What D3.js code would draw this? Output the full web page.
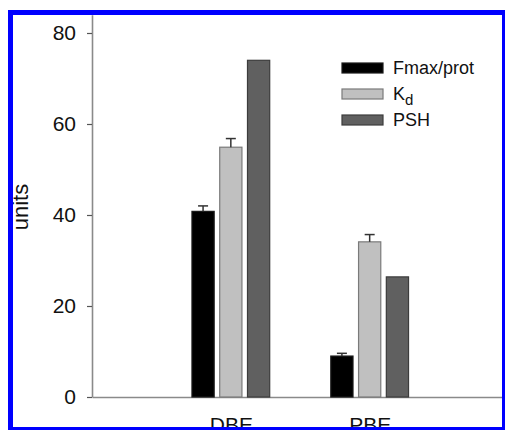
<!DOCTYPE html>
<html>
<head>
<meta charset="utf-8">
<script src="https://cdn.jsdelivr.net/npm/d3@7"></script>
<style>
  html, body { margin: 0; padding: 0; background: #fff; }
  svg { display: block; }
  text { font-family: "Liberation Sans", Arial, Helvetica, sans-serif; fill: #111; }
</style>
</head>
<body>
<svg id="chart" width="505" height="430"></svg>
<script>
// Group labels and the three measured series (mean and upper error)
const categories = ["DBE", "PBE"];
const fmaxProt = [40.8, 9.0];
const fmaxProtErr = [1.2, 0.6];
const kd = [54.9, 34.1];
const kdErr = [1.9, 1.6];
const psh = [74.0, 26.4];
const yTicks = [0, 20, 40, 60, 80];

const series = [
  { key: "Fmax/prot", values: fmaxProt, err: fmaxProtErr, fill: "#000000", stroke: "#1a1a1a" },
  { key: "Kd",        values: kd,       err: kdErr,       fill: "#c0c0c0", stroke: "#7a7a7a" },
  { key: "PSH",       values: psh,      err: null,        fill: "#606060", stroke: "#3c3c3c" }
];

const svg = d3.select("#chart");

// Category positions sit at 1 and 2 on a 0..3 axis
const x = d3.scaleLinear().domain([0, 3]).range([92, 508.5]);
const y = d3.scaleLinear().domain([0, 84]).range([397, 14.8]);
const pitch = 0.2, barW = 0.16;

// Y axis
const yAxis = d3.axisLeft(y).tickValues(yTicks).tickSize(5).tickPadding(11).tickSizeOuter(0);
const gy = svg.append("g").attr("transform", `translate(${x(0)},0)`).call(yAxis);
gy.select(".domain").attr("stroke", "#8a8a8a").attr("stroke-width", 1.6);
gy.selectAll(".tick line").attr("stroke", "#555").attr("stroke-width", 1.2);
gy.selectAll(".tick text").attr("font-size", 21).attr("fill", "#111")
  .style("font-family", "'Liberation Sans', Arial, sans-serif");

// X axis baseline and group labels
const xAxis = d3.axisBottom(x).tickValues([1, 2]).tickSize(0).tickPadding(20)
  .tickFormat((d) => categories[d - 1]);
const gx = svg.append("g").attr("transform", `translate(0,${y(0)})`).call(xAxis);
gx.select(".domain").attr("stroke", "#8a8a8a").attr("stroke-width", 1.6);
gx.selectAll(".tick text").attr("font-size", 21).attr("fill", "#111")
  .style("font-family", "'Liberation Sans', Arial, sans-serif");

// Bars
const bars = svg.append("g");
series.forEach((s, si) => {
  s.values.forEach((v, ci) => {
    const cx = x(ci + 1 + (si - 1) * pitch);
    const w = x(barW) - x(0);
    bars.append("rect")
      .attr("x", cx - w / 2)
      .attr("y", y(v))
      .attr("width", w)
      .attr("height", y(0) - y(v))
      .attr("fill", s.fill)
      .attr("stroke", s.stroke)
      .attr("stroke-width", 1.2);
    if (s.err) {
      const top = y(v + s.err[ci]);
      bars.append("line").attr("x1", cx).attr("x2", cx).attr("y1", y(v)).attr("y2", top)
        .attr("stroke", "#333").attr("stroke-width", 1.5);
      bars.append("line").attr("x1", cx - 5).attr("x2", cx + 5).attr("y1", top).attr("y2", top)
        .attr("stroke", "#333").attr("stroke-width", 1.5);
    }
  });
});

// Y axis title
svg.append("text")
  .attr("transform", "translate(27.5,207) rotate(-90)")
  .attr("text-anchor", "middle")
  .attr("font-size", 22)
  .text("units");

// Legend
const legend = svg.append("g");
const legendRows = [63, 89, 115];
series.forEach((s, i) => {
  legend.append("rect")
    .attr("x", 342).attr("y", legendRows[i])
    .attr("width", 41).attr("height", 10)
    .attr("fill", s.fill).attr("stroke", s.stroke).attr("stroke-width", 1.2);
  const t = legend.append("text")
    .attr("x", 393).attr("y", legendRows[i] + 11)
    .attr("font-size", 18);
  if (s.key === "Kd") {
    t.append("tspan").text("K");
    t.append("tspan").attr("dy", 5).attr("font-size", 15).text("d");
  } else {
    t.text(s.key);
  }
});

// Blue frame
svg.append("rect")
  .attr("x", 10.5).attr("y", 12.5)
  .attr("width", 494).attr("height", 417)
  .attr("fill", "none")
  .attr("stroke", "#0000ff")
  .attr("stroke-width", 5);
</script>
</body>
</html>
